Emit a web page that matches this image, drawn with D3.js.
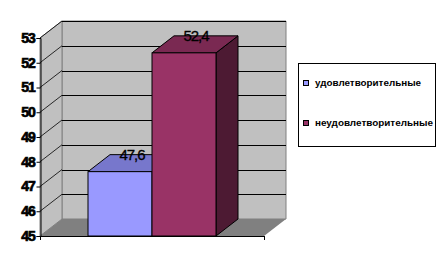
<!DOCTYPE html>
<html>
<head>
<meta charset="utf-8">
<script src="https://cdn.jsdelivr.net/npm/d3@7"></script>
<style>
  body { margin: 0; background: #fff; }
  svg { display: block; }
</style>
</head>
<body>
<div id="chart"></div>
<script>
const categories = ['']
const seriesNames = ['удовлетворительные', 'неудовлетворительные']
const seriesValues = [47.6, 52.4]
const valueLabels = ['47,6', '52,4']
const yTicks = [45, 46, 47, 48, 49, 50, 51, 52, 53]

const width = 445, height = 271
const front = {left: 40, right: 264, top: 38, bottom: 236}
const depth = {dx: 22, dy: -17}

const colors = ['#9999FF', '#993366']
const topColors = ['#7777CC', '#7A2952']
const sideColors = ['#6B6BB3', '#4D1A33']

const svg = d3.select('#chart').append('svg')
    .attr('width', width)
    .attr('height', height)

const y = d3.scaleLinear()
    .domain([45, 53])
    .range([front.bottom, front.top])

const x0 = d3.scaleBand()
    .domain(categories)
    .range([front.left, front.right])

const x1 = d3.scaleBand()
    .domain(seriesNames)
    .range([0, x0.bandwidth()])
    .paddingInner(0)
    .paddingOuter(0.75)

const pts = a => a.map(p => p.join(',')).join(' ')
const dx = depth.dx, dy = depth.dy

// walls + floor
const yMin = y.domain()[0], yMax = y.domain()[1]
svg.append('polygon')
    .attr('points', pts([[front.left + dx, y(yMax) + dy], [front.right + dx, y(yMax) + dy],
                         [front.right + dx, y(yMin) + dy], [front.left + dx, y(yMin) + dy]]))
    .attr('fill', '#C0C0C0').attr('stroke', '#808080')

svg.append('polygon')
    .attr('points', pts([[front.left, y(yMax)], [front.left + dx, y(yMax) + dy],
                         [front.left + dx, y(yMin) + dy], [front.left, y(yMin)]]))
    .attr('fill', '#C0C0C0').attr('stroke', '#808080')

svg.append('polygon')
    .attr('points', pts([[front.left, y(yMin)], [front.left + dx, y(yMin) + dy],
                         [front.right + dx, y(yMin) + dy], [front.right, y(yMin)]]))
    .attr('fill', '#808080')

// gridlines
const grid = svg.append('g').attr('stroke', '#000').attr('stroke-width', 1)
grid.selectAll('.gh')
  .data(yTicks.slice(1))
  .join('line')
    .attr('x1', front.left + dx).attr('x2', front.right + dx)
    .attr('y1', d => Math.round(y(d) + dy) + 0.5).attr('y2', d => Math.round(y(d) + dy) + 0.5)
grid.selectAll('.gd')
  .data(yTicks.slice(1))
  .join('line')
    .attr('x1', front.left).attr('y1', d => y(d))
    .attr('x2', front.left + dx).attr('y2', d => y(d) + dy)
    .attr('stroke-width', 0.8)

// y axis
const yAxis = d3.axisLeft(y).tickValues(yTicks).tickSize(4).tickPadding(2)
const ga = svg.append('g')
    .attr('transform', `translate(${front.left + 0.5},0)`)
    .call(yAxis)
ga.select('.domain').attr('stroke', '#000')
ga.selectAll('text')
    .attr('font-family', 'Liberation Sans, Arial, sans-serif')
    .attr('font-size', 14)
    .attr('font-weight', 'bold')
    .attr('letter-spacing', -1.2)
    .attr('stroke', '#000')
    .attr('stroke-width', 0.7)
    .attr('fill', '#000')

// x axis line
svg.append('line')
    .attr('x1', front.left).attr('x2', front.right)
    .attr('y1', front.bottom + 0.5).attr('y2', front.bottom + 0.5)
    .attr('stroke', '#000')
svg.selectAll('.xt')
  .data([front.left, front.right])
  .join('line')
    .attr('x1', d => d + 0.5).attr('x2', d => d + 0.5)
    .attr('y1', front.bottom).attr('y2', front.bottom + 4)
    .attr('stroke', '#000')

// bars
const bars = svg.append('g').attr('stroke', '#000').attr('stroke-width', 1)
seriesNames.forEach((name, i) => {
  const xl = x0(categories[0]) + x1(name)
  const xr = xl + x1.bandwidth()
  const yt = y(seriesValues[i]), yb = y(yMin)
  const b = bars.append('g')
  b.append('polygon')
      .attr('points', pts([[xr, yt], [xr + dx, yt + dy], [xr + dx, yb + dy], [xr, yb]]))
      .attr('fill', sideColors[i])
  b.append('polygon')
      .attr('points', pts([[xl, yt], [xl + dx, yt + dy], [xr + dx, yt + dy], [xr, yt]]))
      .attr('fill', topColors[i])
  b.append('rect')
      .attr('x', xl).attr('y', yt)
      .attr('width', xr - xl).attr('height', yb - yt)
      .attr('fill', colors[i])
})

// value labels
svg.selectAll('.vl')
  .data(seriesNames)
  .join('text')
    .attr('x', (d, i) => x0(categories[0]) + x1(d) + x1.bandwidth() / 2 + dx / 2 + 1)
    .attr('y', (d, i) => y(seriesValues[i]) - 12)
    .attr('text-anchor', 'middle')
    .attr('font-family', 'Liberation Sans, Arial, sans-serif')
    .attr('font-size', 15)
    .attr('letter-spacing', -1)
    .attr('stroke', '#000')
    .attr('stroke-width', 0.3)
    .attr('fill', '#000')
    .text((d, i) => valueLabels[i])

// legend
const lg = svg.append('g')
lg.append('rect')
    .attr('x', 298.5).attr('y', 63.5)
    .attr('width', 137).attr('height', 83)
    .attr('fill', '#fff').attr('stroke', '#000')

const items = lg.selectAll('.li')
  .data(seriesNames)
  .join('g')
    .attr('transform', (d, i) => `translate(303,${83 + i * 40})`)
items.append('rect')
    .attr('x', 0.5).attr('y', -2.5)
    .attr('width', 5).attr('height', 5)
    .attr('fill', (d, i) => colors[i])
    .attr('stroke', '#000')
items.append('text')
    .attr('x', 12)
    .attr('y', 3)
    .attr('font-family', 'Liberation Sans, Arial, sans-serif')
    .attr('font-size', 9)
    .attr('font-weight', 'bold')
    .attr('textLength', (d, i) => [106, 118][i])
    .attr('lengthAdjust', 'spacingAndGlyphs')
    .attr('fill', '#000')
    .text(d => d)
</script>
</body>
</html>
